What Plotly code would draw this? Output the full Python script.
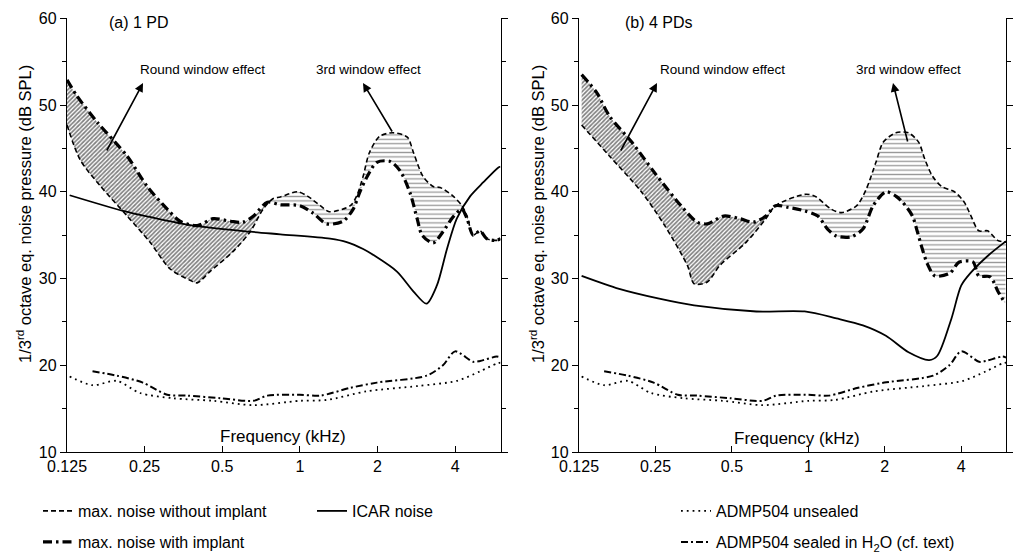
import plotly.graph_objects as go

W, H = 1022, 557

# ---------------- data (frequency in kHz, level in dB SPL) ----------------
f_no_L = [0.125, 0.1405, 0.168, 0.214, 0.262, 0.314, 0.375, 0.40, 0.448, 0.55, 0.642, 0.72, 0.786,
          0.84, 0.977, 1.07, 1.2, 1.3, 1.57, 1.66, 1.76, 1.86, 2.04, 2.3, 2.61, 2.76, 3.0, 3.29,
          3.5, 3.93, 4.25, 4.45, 4.7, 5.0, 5.3, 5.8, 6.0]
v_no_L = [47.7, 43.7, 40.7, 37.2, 34.2, 31.1, 29.8, 29.5, 30.8, 33.1, 35.4, 38.0, 39.2,
          39.4, 40.0, 39.5, 38.4, 37.7, 38.4, 39.5, 41.8, 44.5, 46.4, 46.8, 46.3, 44.5, 41.8, 40.6,
          40.5, 39.5, 38.4, 37.2, 35.0, 35.5, 34.6, 34.4, 34.6]

f_imp_L = [0.125, 0.137, 0.164, 0.214, 0.256, 0.306, 0.343, 0.40, 0.461, 0.539, 0.602, 0.661, 0.748,
           0.84, 1.0, 1.13, 1.27, 1.47, 1.61, 1.71, 1.82, 1.99, 2.24, 2.45, 2.68, 2.85, 2.98, 3.29,
           3.59, 3.93, 4.25, 4.45, 4.7, 5.0, 5.3, 5.8, 6.0]
v_imp_L = [52.9, 51.0, 48.0, 44.1, 40.6, 38.0, 36.6, 36.1, 36.9, 36.6, 36.5, 37.2, 38.8,
           38.5, 38.4, 37.5, 36.3, 36.6, 38.0, 40.0, 41.7, 43.4, 43.5, 42.4, 39.8, 36.9, 35.0, 34.1,
           35.4, 37.1, 38.0, 36.9, 35.0, 35.5, 34.6, 34.4, 34.6]

f_icar_L = [0.128, 0.206, 0.262, 0.386, 0.642, 0.84, 1.31, 1.52, 1.76, 1.93, 2.38, 2.76, 3.1,
            3.4, 3.72, 4.06, 4.58, 5.15, 5.89, 6.0]
v_icar_L = [39.6, 37.8, 37.1, 36.1, 35.4, 35.1, 34.6, 34.2, 33.4, 32.7, 30.8, 28.5, 27.1,
            29.2, 33.4, 36.9, 39.5, 41.1, 42.8, 42.9]

f_no_R = [0.128, 0.165, 0.220, 0.272, 0.334, 0.355, 0.400, 0.448, 0.570, 0.680, 0.743, 0.967, 1.06,
          1.23, 1.35, 1.55, 1.69, 1.85, 1.97, 2.21, 2.48, 2.72, 2.87, 3.08, 3.35, 3.76, 4.11, 4.37,
          4.69, 5.08, 5.56, 6.0]
v_no_R = [47.7, 44.1, 40.0, 36.1, 31.5, 29.4, 29.6, 31.5, 34.2, 36.9, 38.4, 39.7, 39.5,
          38.0, 37.6, 38.4, 40.3, 43.5, 45.7, 46.8, 46.8, 45.7, 43.8, 41.8, 40.6, 40.0, 38.8, 37.2,
          35.5, 35.5, 34.4, 34.2]

f_imp_R = [0.128, 0.147, 0.165, 0.202, 0.248, 0.315, 0.365, 0.400, 0.464, 0.538, 0.608, 0.680, 0.743,
           0.834, 0.967, 1.09, 1.19, 1.29, 1.47, 1.64, 1.80, 2.02, 2.21, 2.35, 2.57, 2.68, 2.81,
           2.94, 3.15, 3.60, 3.93, 4.45, 4.69, 5.2, 5.56, 5.96]
v_imp_R = [53.5, 51.4, 48.7, 45.7, 42.2, 38.4, 36.5, 36.3, 37.2, 36.9, 36.5, 37.2, 38.4,
           38.2, 37.8, 37.2, 35.7, 34.9, 34.8, 35.7, 38.4, 40.0, 39.5, 38.8, 37.2, 35.5, 33.4,
           31.7, 30.3, 30.6, 31.9, 31.9, 30.3, 30.2, 28.6, 27.1]

f_icar_R = [0.128, 0.180, 0.256, 0.355, 0.624, 0.967, 1.29, 1.64, 2.02, 2.48, 2.99, 3.22, 3.66,
            4.0, 4.37, 5.08, 6.0]
v_icar_R = [30.3, 28.8, 27.7, 26.9, 26.2, 26.2, 25.4, 24.6, 23.4, 21.5, 20.6, 21.1, 25.4,
            29.2, 30.7, 32.6, 34.3]

f_unsealed = [0.128, 0.157, 0.195, 0.24, 0.322, 0.461, 0.661, 1.0, 1.27, 1.82, 2.85, 4.06, 5.0, 5.8, 6.0]
v_unsealed = [18.7, 17.7, 18.2, 16.8, 16.2, 15.9, 15.4, 15.9, 16.0, 17.0, 17.6, 18.2, 19.3, 20.2, 20.3]

f_sealed = [0.157, 0.195, 0.246, 0.306, 0.366, 0.492, 0.661, 0.748, 1.0, 1.2, 1.57, 1.99, 3.1,
            3.59, 4.0, 4.7, 5.0, 5.8, 6.0]
v_sealed = [19.3, 18.8, 18.0, 16.6, 16.5, 16.2, 15.9, 16.5, 16.6, 16.5, 17.4, 18.0, 18.8,
            20.0, 21.6, 20.4, 20.5, 21.0, 20.9]

split_L = 0.76   # crossing of the two "max. noise" curves
split_R = 0.743

x_ticks = [0.125, 0.25, 0.5, 1, 2, 4]
x_ticktext = ["0.125", "0.25", "0.5", "1", "2", "4"]
y_ticks = [10, 20, 30, 40, 50, 60]
y_minor = [15, 25, 35, 45, 55]

names = ["max. noise without implant", "max. noise with implant", "ICAR noise",
         "ADMP504 unsealed", "ADMP504 sealed in H<sub>2</sub>O (cf. text)"]

FONT = "Liberation Sans, Arial, sans-serif"
LEGFONT = "Liberation Sans Narrow, Arial Narrow, Liberation Sans, Arial, sans-serif"

# ---------------- styles ----------------
st_no = dict(color="black", width=1.6, dash="5px,3px")
st_imp = dict(color="black", width=3.2, dash="9px,4px,2.5px,4px")
st_icar = dict(color="black", width=1.8)
st_uns = dict(color="black", width=1.8, dash="1.8px,4px")
st_sea = dict(color="black", width=2.0, dash="7px,3px,2px,3px")

fig = go.Figure()


def sub(xs, ys, lo=None, hi=None):
    px_, py_ = [], []
    for a, b in zip(xs, ys):
        if (lo is None or a >= lo) and (hi is None or a <= hi):
            px_.append(a)
            py_.append(b)
    return px_, py_


def add_panel(xa, ya, f_no, v_no, f_imp, v_imp, f_ic, v_ic, split, legend_on):
    diag = dict(shape="/", fgcolor="#000000", bgcolor="white", size=3, solidity=0.55)
    horiz = dict(shape="-", fgcolor="#333333", bgcolor="white", size=4.4, solidity=0.3)
    for lo, hi, pat in [(None, split + 0.03, diag), (split - 0.03, None, horiz)]:
        ax_, ay_ = sub(f_no, v_no, lo, hi)
        bx_, by_ = sub(f_imp, v_imp, lo, hi)
        fig.add_trace(go.Scatter(x=ax_, y=ay_, mode="lines", line=dict(width=0, shape="spline"),
                                 showlegend=False, hoverinfo="skip", xaxis=xa, yaxis=ya))
        fig.add_trace(go.Scatter(x=bx_, y=by_, mode="lines", line=dict(width=0, shape="spline"),
                                 fill="tonexty", fillcolor="rgba(0,0,0,0)", fillpattern=pat,
                                 showlegend=False, hoverinfo="skip", xaxis=xa, yaxis=ya))
    series = [
        (f_no, v_no, st_no, names[0], "legend"),
        (f_imp, v_imp, st_imp, names[1], "legend2"),
        (f_ic, v_ic, st_icar, names[2], "legend3"),
        (f_unsealed, v_unsealed, st_uns, names[3], "legend4"),
        (f_sealed, v_sealed, st_sea, names[4], "legend5"),
    ]
    for xs, ys, st, nm, lg in series:
        fig.add_trace(go.Scatter(x=xs, y=ys, mode="lines", name=nm,
                                 line=dict(st, shape="spline", smoothing=0.8),
                                 showlegend=legend_on, legend=lg, xaxis=xa, yaxis=ya))


add_panel("x", "y", f_no_L, v_no_L, f_imp_L, v_imp_L, f_icar_L, v_icar_L, split_L, True)
add_panel("x2", "y2", f_no_R, v_no_R, f_imp_R, v_imp_R, f_icar_R, v_icar_R, split_R, False)


def px(x):
    return x / W


def py(y):
    return 1 - y / H


y_dom = [py(452), py(18.3)]
x_dom1 = [px(67), px(500.5)]
x_dom2 = [px(579), px(1006)]

xcommon = dict(type="log", range=[-0.90309, 0.778151], tickvals=x_ticks, ticktext=x_ticktext,
               showline=True, linecolor="black", linewidth=1.3, ticks="inside", ticklen=6,
               tickwidth=1.3, tickcolor="black", showgrid=False, zeroline=False, automargin=False,
               tickfont=dict(family=FONT, size=16, color="black"), mirror=False)
ycommon = dict(range=[10, 60], tickvals=y_ticks, showline=True, linecolor="black", linewidth=1.3,
               ticks="outside", ticklen=6, tickwidth=1.3, tickcolor="black", mirror=False,
               showgrid=False, zeroline=False, automargin=False,
               minor=dict(tickvals=y_minor, ticks="outside", ticklen=4,
                          tickwidth=1.2, tickcolor="black", showgrid=False),
               tickfont=dict(family=FONT, size=16, color="black"))
# right-hand frame axes (ticks only, no labels)
yright = dict(ycommon, side="right", showticklabels=False)

leg_common = dict(orientation="v", bgcolor="rgba(0,0,0,0)", borderwidth=0,
                  font=dict(family=LEGFONT, size=16, color="black"),
                  xanchor="left", yanchor="middle", itemwidth=30,
                  itemclick=False, itemdoubleclick=False)

fig.update_layout(
    width=W, height=H, margin=dict(l=0, r=0, t=0, b=0, autoexpand=False),
    paper_bgcolor="white", plot_bgcolor="white",
    font=dict(family=FONT, size=16, color="black"),
    xaxis=dict(xcommon, domain=x_dom1, anchor="y"),
    yaxis=dict(ycommon, domain=y_dom, anchor="x"),
    xaxis2=dict(xcommon, domain=x_dom2, anchor="y2"),
    yaxis2=dict(ycommon, domain=y_dom, anchor="x2"),
    yaxis3=dict(yright, domain=y_dom, anchor="x", overlaying="y"),
    yaxis4=dict(yright, domain=y_dom, anchor="x2", overlaying="y2"),
    legend=dict(leg_common, x=px(38), y=py(511)),
    legend2=dict(leg_common, x=px(38), y=py(542)),
    legend3=dict(leg_common, x=px(312), y=py(511)),
    legend4=dict(leg_common, x=px(676), y=py(511)),
    legend5=dict(leg_common, x=px(676), y=py(542)),
    showlegend=True,
)
# invisible carrier traces so the right-hand axes are rendered
fig.add_trace(go.Scatter(x=[x_ticks[0]], y=[y_ticks[0]], mode="markers", marker=dict(opacity=0),
                         showlegend=False, hoverinfo="skip", xaxis="x", yaxis="y3"))
fig.add_trace(go.Scatter(x=[x_ticks[0]], y=[y_ticks[0]], mode="markers", marker=dict(opacity=0),
                         showlegend=False, hoverinfo="skip", xaxis="x2", yaxis="y4"))

ann = []


def text(x, y, s, size, **kw):
    d = dict(x=px(x), y=py(y), xref="paper", yref="paper", text=s, showarrow=False,
             font=dict(family=FONT, size=size, color="black"), xanchor="center", yanchor="middle")
    d.update(kw)
    ann.append(d)


def arrow(hx, hy, tx, ty):
    ann.append(dict(x=px(hx), y=py(hy), xref="paper", yref="paper", text="", showarrow=True,
                    ax=tx - hx, ay=ty - hy, axref="pixel", ayref="pixel",
                    arrowhead=2, arrowsize=1.1, arrowwidth=1.6, arrowcolor="black"))


text(107, 23, "(a) 1 PD", 16, xanchor="left")
text(623, 23, "(b) 4 PDs", 16, xanchor="left")
text(202, 69, "Round window effect", 13.5)
text(368, 69, "3rd window effect", 13.5)
text(722, 69, "Round window effect", 13.5)
text(908, 69, "3rd window effect", 13.5)
text(283, 436, "Frequency (kHz)", 17)
text(797, 438, "Frequency (kHz)", 17)
ytitle = "1/3<sup>rd</sup> octave eq. noise pressure (dB SPL)"
text(24, 214, ytitle, 16.5, textangle=-90)
text(537, 214, ytitle, 16.5, textangle=-90)

arrow(143, 83, 106, 152)
arrow(363, 83, 393, 133)
arrow(657, 83, 620, 152)
arrow(893, 83, 908, 143)

fig.update_layout(annotations=ann)

fig.write_html("out.html", config={"displayModeBar": False},
               post_script="document.body.style.margin='0';document.body.style.overflow='hidden';")
